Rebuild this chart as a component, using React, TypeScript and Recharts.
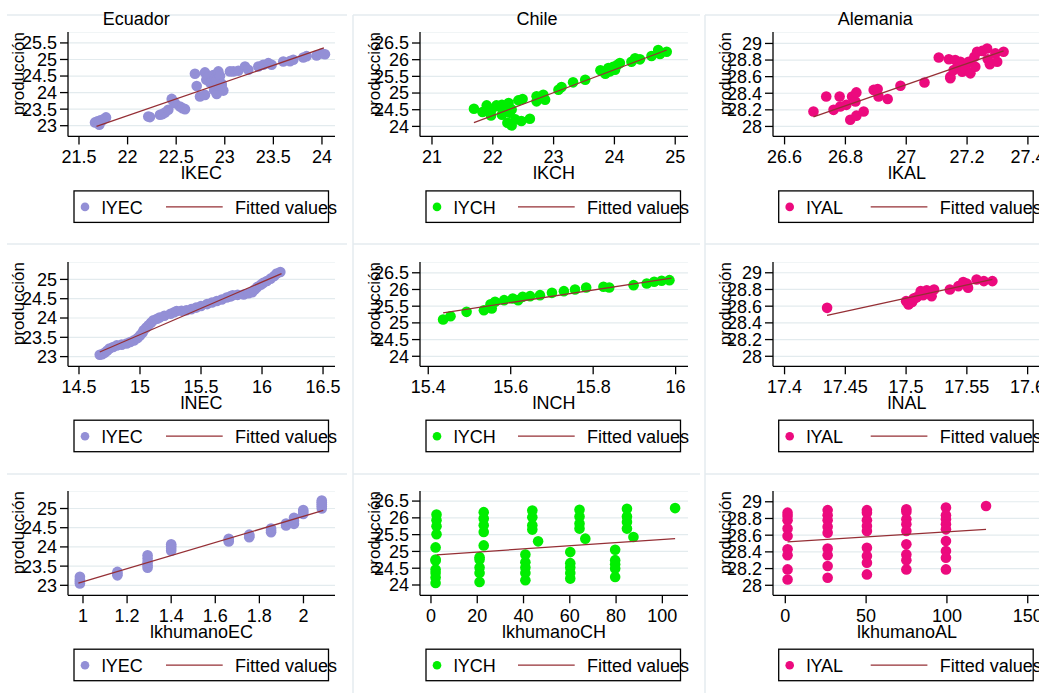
import { ScatterChart, Scatter, XAxis, YAxis, CartesianGrid } from "recharts";

// ---- Ecuador: lKEC vs lYEC ----
const ecK_x = [21.665, 21.69, 21.709, 21.72, 21.733, 21.755, 21.778, 22.213, 22.23, 22.333, 22.36, 22.385, 22.419, 22.454, 22.47, 22.488, 22.539, 22.565, 22.591, 22.693, 22.711, 22.745, 22.796, 22.796, 22.81, 22.831, 22.85, 22.865, 22.882, 22.89, 22.9, 22.917, 22.917, 22.934, 22.951, 22.951, 22.968, 22.968, 22.985, 23.053, 23.087, 23.139, 23.208, 23.242, 23.345, 23.396, 23.448, 23.482, 23.602, 23.671, 23.705, 23.808, 23.842, 23.945, 23.997, 24.031];
const ecK_y = [23.1, 23.13, 23.03, 23.16, 23.14, 23.2, 23.25, 23.28, 23.26, 23.33, 23.35, 23.4, 23.48, 23.81, 23.74, 23.68, 23.58, 23.53, 23.5, 24.57, 24.2, 23.88, 23.93, 24.61, 24.39, 24.49, 24.3, 24.36, 24.53, 24.08, 24.45, 24.39, 23.96, 24.64, 24.5, 24.18, 24.27, 24.2, 24.06, 24.64, 24.64, 24.66, 24.79, 24.69, 24.79, 24.84, 24.89, 24.84, 24.94, 24.95, 24.99, 25.06, 25.1, 25.12, 25.18, 25.16];
const ecK_fitX = [21.68, 24.02];
const ecK_fitY = [22.98, 25.35];

// ---- Chile: lKCH vs lYCH ----
const chK_x = [21.69, 21.83, 21.9, 21.97, 21.98, 22.06, 22.1, 22.15, 22.15, 22.2, 22.24, 22.26, 22.28, 22.31, 22.31, 22.37, 22.42, 22.47, 22.49, 22.61, 22.72, 22.72, 22.83, 22.86, 23.08, 23.13, 23.32, 23.52, 23.77, 23.85, 23.9, 23.93, 23.98, 24.01, 24.05, 24.09, 24.28, 24.34, 24.42, 24.61, 24.72, 24.75, 24.86];
const chK_y = [24.53, 24.43, 24.63, 24.33, 24.51, 24.63, 24.6, 24.65, 24.35, 24.53, 24.11, 24.7, 24.41, 24.51, 24.03, 24.21, 24.78, 24.16, 24.82, 24.23, 24.9, 24.75, 24.95, 24.8, 25.1, 25.18, 25.32, 25.4, 25.68, 25.58, 25.75, 25.65, 25.79, 25.7, 25.85, 25.9, 25.94, 26.04, 26.01, 26.11, 26.29, 26.17, 26.24];
const chK_fitX = [21.69, 24.86];
const chK_fitY = [24.11, 26.29];

// ---- Alemania: lKAL vs lYAL ----
const alK_x = [26.695, 26.737, 26.761, 26.781, 26.783, 26.803, 26.822, 26.833, 26.836, 26.816, 26.836, 26.86, 26.893, 26.906, 26.909, 26.939, 26.981, 27.06, 27.107, 27.14, 27.145, 27.145, 27.156, 27.161, 27.172, 27.178, 27.184, 27.194, 27.205, 27.211, 27.224, 27.227, 27.233, 27.25, 27.266, 27.268, 27.275, 27.293, 27.299, 27.32];
const alK_y = [28.18, 28.36, 28.2, 28.36, 28.24, 28.26, 28.36, 28.3, 28.41, 28.08, 28.13, 28.18, 28.44, 28.45, 28.36, 28.33, 28.49, 28.53, 28.83, 28.81, 28.6, 28.58, 28.68, 28.8, 28.72, 28.78, 28.66, 28.7, 28.78, 28.64, 28.84, 28.72, 28.9, 28.91, 28.94, 28.81, 28.75, 28.88, 28.78, 28.9];
const alK_fitX = [26.695, 27.32];
const alK_fitY = [28.116, 28.91];

// ---- Ecuador: lNEC vs lYEC ----
const ecN_x = [14.67, 14.69, 14.71, 14.73, 14.75, 14.78, 14.81, 14.85, 14.89, 14.92, 14.95, 14.98, 15.0, 15.02, 15.03, 15.05, 15.07, 15.09, 15.11, 15.14, 15.16, 15.2, 15.25, 15.28, 15.3, 15.34, 15.38, 15.42, 15.46, 15.5, 15.55, 15.59, 15.63, 15.67, 15.71, 15.74, 15.76, 15.8, 15.85, 15.89, 15.92, 15.94, 15.96, 15.99, 16.01, 16.04, 16.07, 16.1, 16.12, 16.15];
const ecN_y = [23.05, 23.06, 23.1, 23.15, 23.21, 23.25, 23.29, 23.31, 23.34, 23.38, 23.42, 23.48, 23.55, 23.62, 23.68, 23.75, 23.81, 23.88, 23.94, 23.98, 24.01, 24.06, 24.11, 24.15, 24.18, 24.19, 24.2, 24.23, 24.27, 24.31, 24.36, 24.4, 24.44, 24.48, 24.53, 24.56, 24.59, 24.6, 24.61, 24.64, 24.67, 24.74, 24.8, 24.86, 24.91, 24.96, 25.02, 25.09, 25.15, 25.19];
const ecN_fitX = [14.67, 16.16];
const ecN_fitY = [23.12, 25.15];

// ---- Chile: lNCH vs lYCH ----
const chN_x = [15.436, 15.454, 15.493, 15.535, 15.554, 15.551, 15.562, 15.584, 15.605, 15.618, 15.629, 15.647, 15.671, 15.7, 15.729, 15.756, 15.783, 15.825, 15.839, 15.898, 15.93, 15.948, 15.966, 15.985];
const chN_y = [25.1, 25.2, 25.33, 25.38, 25.43, 25.56, 25.63, 25.68, 25.73, 25.68, 25.78, 25.8, 25.83, 25.9, 25.95, 26.0, 26.06, 26.08, 26.06, 26.13, 26.18, 26.23, 26.26, 26.28];
const chN_fitX = [15.436, 15.99];
const chN_fitY = [25.3, 26.34];

// ---- Alemania: lNAL vs lYAL ----
const alN_x = [17.435, 17.5, 17.502, 17.503, 17.505, 17.506, 17.508, 17.509, 17.512, 17.514, 17.517, 17.52, 17.521, 17.523, 17.536, 17.543, 17.547, 17.55, 17.551, 17.558, 17.564, 17.571];
const alN_y = [28.58, 28.66, 28.62, 28.64, 28.65, 28.69, 28.7, 28.71, 28.78, 28.73, 28.79, 28.75, 28.72, 28.8, 28.8, 28.84, 28.89, 28.87, 28.82, 28.92, 28.9, 28.9];
const alN_fitX = [17.435, 17.571];
const alN_fitY = [28.49, 28.92];

// ---- Ecuador: lkhumanoEC vs lYEC ----
const ecH_x = [0.986, 0.986, 0.986, 0.986, 1.156, 1.156, 1.156, 1.293, 1.293, 1.293, 1.293, 1.293, 1.4, 1.4, 1.4, 1.4, 1.661, 1.661, 1.661, 1.754, 1.754, 1.754, 1.853, 1.853, 1.853, 1.921, 1.921, 1.957, 1.957, 1.957, 1.999, 1.999, 1.999, 2.083, 2.083, 2.083, 2.083, 2.083];
const ecH_y = [23.05, 23.1, 23.15, 23.22, 23.26, 23.3, 23.35, 23.46, 23.52, 23.6, 23.7, 23.78, 23.9, 23.96, 24.02, 24.07, 24.14, 24.18, 24.21, 24.25, 24.29, 24.32, 24.38, 24.43, 24.48, 24.56, 24.61, 24.6, 24.68, 24.76, 24.86, 24.91, 24.96, 25.0, 25.06, 25.11, 25.16, 25.21];
const ecH_fitX = [0.979, 2.09];
const ecH_fitY = [23.06, 24.95];

// ---- Chile: lkhumanoCH vs lYCH ----
const chH_x = [2, 2, 2, 2, 2, 2, 2, 2.4, 2.4, 2.4, 2.4, 21, 21, 21, 21, 21, 22.8, 22.8, 22.8, 22.8, 22.8, 40.8, 40.8, 40.8, 40.8, 40.8, 43.8, 43.8, 43.8, 43.8, 46.3, 60.2, 60.2, 60.2, 60.2, 60.2, 64.2, 64.2, 64.2, 64.2, 66.7, 79.6, 79.6, 79.6, 79.6, 79.6, 84.7, 84.7, 84.7, 84.7, 87.5, 105.5];
const chH_y = [25.12, 24.76, 24.73, 24.46, 24.36, 24.22, 24.06, 26.1, 25.93, 25.75, 25.51, 24.83, 24.76, 24.52, 24.36, 24.09, 26.17, 25.98, 25.78, 25.58, 25.18, 24.91, 24.68, 24.52, 24.36, 24.14, 26.22, 26.02, 25.78, 25.65, 25.3, 24.98, 24.65, 24.52, 24.36, 24.19, 26.24, 26.04, 25.83, 25.68, 25.38, 25.05, 24.74, 24.62, 24.49, 24.24, 26.27, 26.04, 25.88, 25.68, 25.43, 26.29];
const chH_fitX = [2.46, 105.5];
const chH_fitY = [24.9, 25.38];

// ---- Alemania: lkhumanoAL vs lYAL ----
const alH_x = [1.4, 1.4, 1.4, 1.4, 1.4, 1.4, 1.4, 1.4, 1.4, 26.2, 26.2, 26.2, 26.2, 26.2, 26.2, 26.2, 26.2, 26.2, 50.5, 50.5, 50.5, 50.5, 50.5, 50.5, 50.5, 50.5, 50.5, 74.9, 74.9, 74.9, 74.9, 74.9, 74.9, 74.9, 74.9, 74.9, 99.4, 99.4, 99.4, 99.4, 99.4, 99.4, 99.4, 99.4, 99.4, 124.2];
const alH_y = [28.87, 28.83, 28.78, 28.68, 28.59, 28.43, 28.36, 28.19, 28.07, 28.9, 28.84, 28.78, 28.7, 28.63, 28.44, 28.36, 28.23, 28.09, 28.9, 28.87, 28.78, 28.71, 28.65, 28.45, 28.35, 28.27, 28.13, 28.91, 28.88, 28.79, 28.73, 28.65, 28.49, 28.37, 28.3, 28.19, 28.93, 28.84, 28.79, 28.73, 28.67, 28.53, 28.41, 28.33, 28.19, 28.95];
const alH_fitX = [1.4, 124.2];
const alH_fitY = [28.52, 28.67];

// axis ticks
const ecK_ticks = [21.5, 22, 22.5, 23, 23.5, 24];
const chK_ticks = [21, 22, 23, 24, 25];
const alK_ticks = [26.6, 26.8, 27, 27.2, 27.4];
const ecN_ticks = [14.5, 15, 15.5, 16, 16.5];
const chN_ticks = [15.4, 15.6, 15.8, 16];
const alN_ticks = [17.4, 17.45, 17.5, 17.55, 17.6];
const ecH_ticks = [1, 1.2, 1.4, 1.6, 1.8, 2];
const chH_ticks = [0, 20, 40, 60, 80, 100];
const alH_ticks = [0, 50, 100, 150];
const ecY_ticks_top = [23, 23.5, 24, 24.5, 25, 25.5];
const ecY_ticks = [23, 23.5, 24, 24.5, 25];
const chY_ticks = [24, 24.5, 25, 25.5, 26, 26.5];
const alY_ticks = [28, 28.2, 28.4, 28.6, 28.8, 29];

const titles = ["Ecuador", "Chile", "Alemania"];
const legendNames = ["lYEC", "lYCH", "lYAL"];

// layout (pixels)
const COL_LEFT = [68, 420, 772.7];
const COL_RIGHT = [335, 688, 1040.7];
const ROW_TOP = [32.3, 261.7, 490.7];
const ROW_BOTTOM = [136.7, 366, 595];
const TITLE_X = [136.2, 537, 875.3];
const YLAB_OFF = [49, 45, 47];
const Y_W = 72;
const X_H = 56;
const R_PAD = 14;
const FIT = "#952f35";
const COLORS = ["#938fd6", "#00ee00", "#ec0a7e"];
const GRID = "#e3ebee";
const FONT = '"Liberation Sans", Arial, sans-serif';

type Panel = {
  row: number;
  col: number;
  xs: number[];
  ys: number[];
  fitX: number[];
  fitY: number[];
  xDomain: [number, number];
  yDomain: [number, number];
  xTicks: number[];
  yTicks: number[];
  xLabel: string;
};

const panels: Panel[] = [
  { row: 0, col: 0, xs: ecK_x, ys: ecK_y, fitX: ecK_fitX, fitY: ecK_fitY, xDomain: [21.387, 24.134], yDomain: [22.677, 25.83], xTicks: ecK_ticks, yTicks: ecY_ticks_top, xLabel: "lKEC" },
  { row: 0, col: 1, xs: chK_x, ys: chK_y, fitX: chK_fitX, fitY: chK_fitY, xDomain: [20.803, 25.21], yDomain: [23.7, 26.83], xTicks: chK_ticks, yTicks: chY_ticks, xLabel: "lKCH" },
  { row: 0, col: 2, xs: alK_x, ys: alK_y, fitX: alK_fitX, fitY: alK_fitY, xDomain: [26.562, 27.443], yDomain: [27.88, 29.138], xTicks: alK_ticks, yTicks: alY_ticks, xLabel: "lKAL" },
  { row: 1, col: 0, xs: ecN_x, ys: ecN_y, fitX: ecN_fitX, fitY: ecN_fitY, xDomain: [14.41, 16.598], yDomain: [22.749, 25.451], xTicks: ecN_ticks, yTicks: ecY_ticks, xLabel: "lNEC" },
  { row: 1, col: 1, xs: chN_x, ys: chN_y, fitX: chN_fitX, fitY: chN_fitY, xDomain: [15.38, 16.03], yDomain: [23.7, 26.823], xTicks: chN_ticks, yTicks: chY_ticks, xLabel: "lNCH" },
  { row: 1, col: 2, xs: alN_x, ys: alN_y, fitX: alN_fitX, fitY: alN_fitY, xDomain: [17.3905, 17.611], yDomain: [27.88, 29.129], xTicks: alN_ticks, yTicks: alY_ticks, xLabel: "lNAL" },
  { row: 2, col: 0, xs: ecH_x, ys: ecH_y, fitX: ecH_fitX, fitY: ecH_fitY, xDomain: [0.932, 2.143], yDomain: [22.74, 25.456], xTicks: ecH_ticks, yTicks: ecY_ticks, xLabel: "lkhumanoEC" },
  { row: 2, col: 1, xs: chH_x, ys: chH_y, fitX: chH_fitX, fitY: chH_fitY, xDomain: [-4.74, 111.08], yDomain: [23.693, 26.8], xTicks: chH_ticks, yTicks: chY_ticks, xLabel: "lkhumanoCH" },
  { row: 2, col: 2, xs: alH_x, ys: alH_y, fitX: alH_fitX, fitY: alH_fitY, xDomain: [-7.61, 158.2], yDomain: [27.88, 29.129], xTicks: alH_ticks, yTicks: alY_ticks, xLabel: "lkhumanoAL" },
];

function PanelChart({ p }: { p: Panel }) {
  const left = COL_LEFT[p.col];
  const top = ROW_TOP[p.row];
  const plotW = COL_RIGHT[p.col] - left;
  const plotH = ROW_BOTTOM[p.row] - top;
  const color = COLORS[p.col];
  const pts = p.xs.map((x, i) => ({ x, y: p.ys[i] }));
  const fit = p.fitX.map((x, i) => ({ x, y: p.fitY[i] }));
  const w = Y_W + plotW + R_PAD;
  const h = plotH + X_H;
  return (
    <div style={{ position: "absolute", left: left - Y_W, top, width: w, height: h }}>
      <ScatterChart width={w} height={h} margin={{ top: 0, right: R_PAD, bottom: 0, left: 0 }}>
        <CartesianGrid horizontal vertical={false} stroke={GRID} strokeWidth={1.2} />
        <XAxis
          type="number"
          dataKey="x"
          domain={p.xDomain}
          ticks={p.xTicks}
          interval={0}
          allowDataOverflow
          height={X_H}
          tickSize={8}
          tickMargin={6}
          axisLine={{ stroke: "#000", strokeWidth: 1.3 }}
          tickLine={{ stroke: "#000", strokeWidth: 1.3 }}
          tick={{ fill: "#000", fontSize: 18, fontFamily: FONT }}
          label={(lp: any) => {
            const vb = lp.viewBox;
            return (
              <text x={vb.x + vb.width / 2} y={vb.y + 43} textAnchor="middle" fontSize={18} fontFamily={FONT} fill="#000">
                {p.xLabel}
              </text>
            );
          }}
        />
        <YAxis
          type="number"
          dataKey="y"
          domain={p.yDomain}
          ticks={p.yTicks}
          interval={0}
          allowDataOverflow
          width={Y_W}
          tickSize={8}
          tickMargin={3}
          axisLine={{ stroke: "#000", strokeWidth: 1.3 }}
          tickLine={{ stroke: "#000", strokeWidth: 1.3 }}
          tick={{ fill: "#000", fontSize: 18, fontFamily: FONT }}
          label={(lp: any) => {
            const vb = lp.viewBox;
            const cx = vb.x + vb.width - YLAB_OFF[p.col];
            const cy = vb.y + vb.height / 2 - 10.5;
            return (
              <text x={cx} y={cy} transform={`rotate(-90 ${cx} ${cy})`} textAnchor="middle" dominantBaseline="central" fontSize={17} fontFamily={FONT} fill="#000">
                producción
              </text>
            );
          }}
        />
        <Scatter
          data={pts}
          isAnimationActive={false}
          shape={(sp: any) => <circle cx={sp.cx} cy={sp.cy} r={5.3} fill={color} />}
        />
        <Scatter
          data={fit}
          isAnimationActive={false}
          line={{ stroke: FIT, strokeWidth: 1.3 }}
          stroke={FIT}
          shape={() => <g />}
        />
      </ScatterChart>
    </div>
  );
}

function Decorations() {
  const rowTops = [15, 244, 474];
  const colSpans = [[7, 347], [353, 700], [705, 1039]];
  return (
    <svg width={1039} height={693} style={{ position: "absolute", left: 0, top: 0, overflow: "visible" }}>
      {rowTops.map((y) =>
        colSpans.map(([a, b]) => <line key={`${y}-${a}`} x1={a} x2={b} y1={y} y2={y} stroke="#e4ebef" strokeWidth={1.5} />)
      )}
      <line x1={353} x2={353} y1={15} y2={693} stroke="#e4ebef" strokeWidth={1.5} />
      <line x1={705} x2={705} y1={15} y2={693} stroke="#e4ebef" strokeWidth={1.5} />
      {titles.map((t, i) => (
        <text key={t} x={TITLE_X[i]} y={24.5} textAnchor="middle" fontSize={18} fontFamily={FONT} fill="#000">
          {t}
        </text>
      ))}
      {panels.map((p, i) => {
        const lx = COL_LEFT[p.col] + 6;
        const ly = ROW_BOTTOM[p.row] + 54.2;
        const cy = ly + 16;
        return (
          <g key={i}>
            <circle cx={lx + 11} cy={cy} r={4.3} fill={COLORS[p.col]} />
            <text x={lx + 27.7} y={ly + 22.6} fontSize={18} fontFamily={FONT} fill="#000">
              {legendNames[p.col]}
            </text>
            <line x1={lx + 92} x2={lx + 148.7} y1={cy} y2={cy} stroke={FIT} strokeWidth={1.3} />
            <text x={lx + 161} y={ly + 22.6} fontSize={18} fontFamily={FONT} fill="#000">
              Fitted values
            </text>
            <rect x={lx} y={ly} width={254.5} height={31.5} fill="none" stroke="#000" strokeWidth={1.3} />
          </g>
        );
      })}
    </svg>
  );
}

export default function App() {
  return (
    <div
      style={{
        position: "fixed",
        left: 0,
        top: 0,
        width: 1039,
        height: 693,
        overflow: "hidden",
        background: "#fff",
        fontFamily: FONT,
      }}
    >
      <Decorations />
      {panels.map((p, i) => (
        <PanelChart key={i} p={p} />
      ))}
    </div>
  );
}
